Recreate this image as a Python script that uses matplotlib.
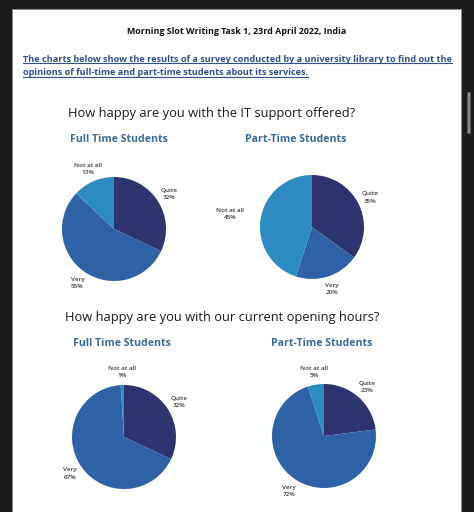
import matplotlib.pyplot as plt
from matplotlib.patches import Rectangle
from matplotlib.lines import Line2D

# data
labels = ["Quite", "Very", "Not at all"]
it_full = [32, 55, 13]
it_part = [35, 20, 45]
hours_full = [32, 67, 1]
hours_part = [23, 72, 5]

colors = ["#2d3470", "#2e62a6", "#2c8cc2"]

W, H = 474, 512
fig = plt.figure(figsize=(W / 100, H / 100), dpi=100)
fig.patch.set_facecolor("#1c1c1c")


def fx(x):
    return x / W


def fy(y):
    return 1 - y / H


# white page + scrollbar
fig.patches.append(Rectangle((fx(12), 0), fx(449), fy(9), transform=fig.transFigure,
                             facecolor="white", edgecolor="#888888", lw=0.6, zorder=-2))
fig.patches.append(Rectangle((fx(466.5), fy(133)), fx(3.5), 41 / H, transform=fig.transFigure,
                             facecolor="#8a8a8a", edgecolor="#5a5a5a", lw=0.5, zorder=-2))

fig.text(fx(237), fy(32), "Morning Slot Writing Task 1, 23rd April 2022, India",
         ha="center", va="center", fontsize=6.4, fontweight="bold",
         family="Open Sans", color="#111111")

blue = "#2f4f8f"
intro = ["The charts below show the results of a survey conducted by a university library to find out the",
         "opinions of full-time and part-time students about its services."]
intro_txt = []
for i, line in enumerate(intro):
    t = fig.text(fx(23), fy(59 + 13.5 * i), line, ha="left", va="center", fontsize=6.55,
                 fontweight="bold", family="Open Sans", color=blue)
    intro_txt.append(t)

heading_kw = dict(ha="left", va="center", family="Open Sans", color="#1a1a1a", fontweight="medium")
fig.text(fx(68), fy(113), "How happy are you with the IT support offered?", fontsize=9.3, **heading_kw)
fig.text(fx(65), fy(317), "How happy are you with our current opening hours?", fontsize=9.3, **heading_kw)

sub_kw = dict(ha="left", va="center", family="Open Sans", color="#3a6a96", fontweight="bold")
fig.text(fx(70), fy(139), "Full Time Students", fontsize=7.6, **sub_kw)
fig.text(fx(245), fy(139), "Part-Time Students", fontsize=7.6, **sub_kw)
fig.text(fx(73), fy(343), "Full Time Students", fontsize=7.6, **sub_kw)
fig.text(fx(271), fy(343), "Part-Time Students", fontsize=7.6, **sub_kw)

# pies: (values, center x, center y, radius in px, label distances)
pies = [
    (it_full, 114, 229, 52, [1.25, 1.25, 1.25]),
    (it_part, 312, 227, 52, [1.25, 1.25, 1.6]),
    (hours_full, 124, 437, 52, [1.25, 1.25, 1.25]),
    (hours_part, 324, 436, 52, [1.25, 1.25, 1.25]),
]

for vals, cx, cy, r, dists in pies:
    ax = fig.add_axes([fx(cx - r), fy(cy + r), 2 * r / W, 2 * r / H])
    ax.set_zorder(1)
    lbls = [f"{n}\n{v}%" for n, v in zip(labels, vals)]
    wedges, texts = ax.pie(vals, labels=lbls, colors=colors, startangle=90,
                           counterclock=False, radius=1, labeldistance=1.25,
                           wedgeprops=dict(linewidth=0),
                           textprops=dict(ha="center", va="center", fontsize=4.6,
                                          family="Open Sans", fontweight="semibold",
                                          color="#3a3a3a", linespacing=1.55))
    for t, d in zip(texts, dists):
        x, y = t.get_position()
        t.set_position((x * d / 1.25, y * d / 1.25))
    ax.set_xlim(-1, 1)
    ax.set_ylim(-1, 1)
    ax.set_aspect("equal")

# underline the intro text
fig.canvas.draw()
renderer = fig.canvas.get_renderer()
for t in intro_txt:
    bb = t.get_window_extent(renderer)
    y0 = bb.y0 + 0.5
    fig.add_artist(Line2D([bb.x0 / W, bb.x1 / W], [y0 / H, y0 / H],
                          transform=fig.transFigure, color=blue, lw=0.8))

fig.savefig("out.png", dpi=100, facecolor=fig.get_facecolor())
